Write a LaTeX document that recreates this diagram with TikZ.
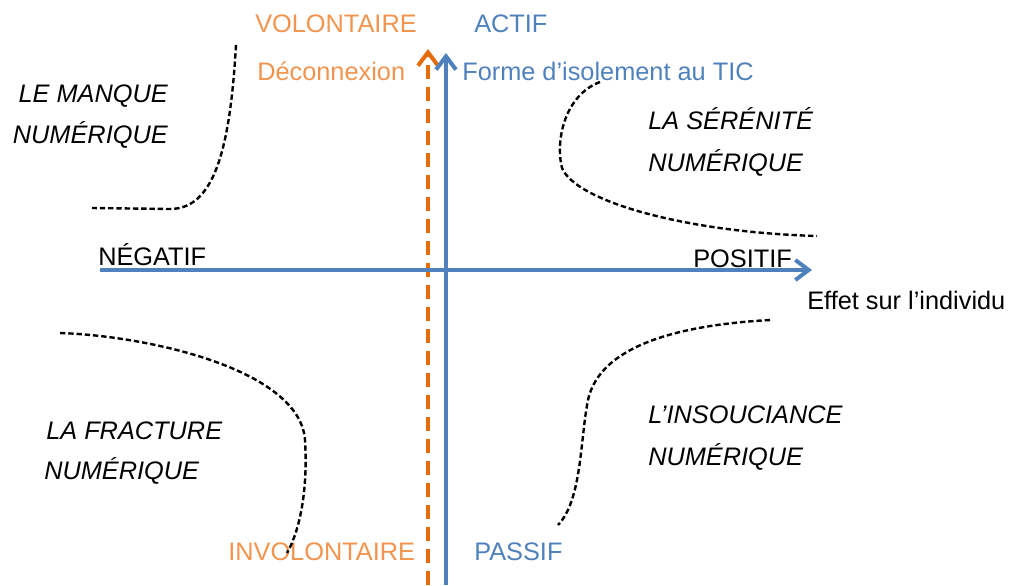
\documentclass[tikz,border=0pt]{standalone}
\usepackage{fontspec}
\setmainfont{Liberation Sans}
\usetikzlibrary{arrows.meta}
\definecolor{axblue}{RGB}{79,129,189}
\definecolor{axorange}{RGB}{228,108,10}
\definecolor{txorange}{RGB}{242,148,78}
\begin{document}
\begin{tikzpicture}[x=0.75pt,y=-0.75pt,
  lbl/.style={inner sep=0pt, font=\fontsize{19}{22}\selectfont},
  quad/.style={inner sep=0pt, font=\fontsize{19}{22}\selectfont\itshape},
  curve/.style={black, line width=1.8pt, dash pattern=on 4pt off 2.2pt},
  axis/.style={axblue, line width=3pt, -{Straight Barb[length=10pt,width=15pt]}},
  oaxis/.style={axorange, line width=3pt, dash pattern=on 10.5pt off 6pt, -{Straight Barb[length=10pt,width=15pt]}},
]
\useasboundingbox (0,0) rectangle (1009,585);
% axes
\coordinate (ob) at (428,585); \coordinate (ot) at (428,49);
\coordinate (vb) at (446,585); \coordinate (vt) at (446,53);
\coordinate (hl) at (100,270); \coordinate (hr) at (812,270);
\draw[oaxis] (ob) -- (ot);
\draw[axis] (vb) -- (vt);
\draw[axis] (hl) -- (hr);
% axis labels
\node[lbl, txorange, anchor=base west] (vol) at (255,33) {VOLONTAIRE};
\node[lbl, axblue, anchor=base west] (act) at (474,33) {ACTIF};
\node[lbl, txorange, anchor=base west] (dec) at (257,80) {Déconnexion};
\node[lbl, axblue, anchor=base west] (forme) at (462,80) {Forme d’isolement au TIC};
\node[lbl, anchor=base west] (neg) at (98,265) {NÉGATIF};
\node[lbl, anchor=base west] (pos) at (693,267) {POSITIF};
\node[lbl, anchor=base west] (eff) at (807,309) {Effet sur l’individu};
\node[lbl, txorange, anchor=base west] (invol) at (228,560) {INVOLONTAIRE};
\node[lbl, axblue, anchor=base west] (pas) at (474,560) {PASSIF};
% quadrant labels
\node[quad, anchor=base east] (q1a) at (168,102) {LE MANQUE};
\node[quad, anchor=base east] (q1b) at (168,143) {NUMÉRIQUE};
\node[quad, anchor=base west] (q2a) at (648,129) {LA SÉRÉNITÉ};
\node[quad, anchor=base west] (q2b) at (648,171) {NUMÉRIQUE};
\node[quad, anchor=base west] (q3a) at (46,439) {LA FRACTURE};
\node[quad, anchor=base west] (q3b) at (44,479) {NUMÉRIQUE};
\node[quad, anchor=base west] (q4a) at (648,423) {L’INSOUCIANCE};
\node[quad, anchor=base west] (q4b) at (648,465) {NUMÉRIQUE};
% dashed curves
\draw[curve] (236,45) .. controls (230,150) and (214,209) .. (170,209) -- (92,208);
\draw[curve] (600,82) .. controls (565,95) and (555,140) .. (562,168) .. controls (575,200) and (680,232) .. (817,236);
\draw[curve] (60,333) .. controls (150,336) and (300,370) .. (305,440) .. controls (308,490) and (300,530) .. (287,553);
\draw[curve] (770,320) .. controls (680,325) and (600,345) .. (588,400) .. controls (580,440) and (582,500) .. (558,525);
\end{tikzpicture}
\end{document}
